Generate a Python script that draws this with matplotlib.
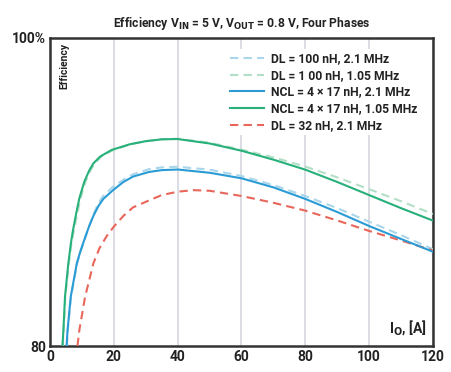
import matplotlib
matplotlib.use("Agg")
import matplotlib.pyplot as plt

plt.rcParams['font.family'] = ['Roboto', 'Liberation Sans', 'DejaVu Sans']

# ---- data ----
ncl105_x = [3.9, 4.2, 4.7, 5.75, 6.5, 7.1, 8.15, 9.2, 10.8, 12.3, 13.6, 15.7, 19.3, 25, 30, 35, 40, 50, 60, 70, 80, 90, 100, 110, 120]
ncl105_y = [80, 81.04, 83.2, 85.37, 86.6, 87.4, 88.55, 89.6, 90.7, 91.4, 91.86, 92.3, 92.73, 93.1, 93.3, 93.42, 93.44, 93.15, 92.68, 92.1, 91.45, 90.65, 89.8, 88.95, 88.14]

dl105_x = [4.0, 4.3, 4.8, 5.9, 6.7, 7.4, 8.5, 9.6, 11.2, 12.7, 14.0, 16.1, 19.6, 25, 30, 35, 40, 50, 60, 70, 80, 90, 100, 110, 120]
dl105_y = [80, 81.04, 83.2, 85.37, 86.6, 87.4, 88.55, 89.6, 90.7, 91.4, 91.86, 92.3, 92.7, 93.08, 93.3, 93.43, 93.46, 93.2, 92.75, 92.25, 91.65, 90.95, 90.18, 89.4, 88.57]

ncl21_x = [5.2, 5.5, 6.5, 8.4, 9.6, 11.0, 12.3, 13.6, 15.2, 16.7, 19.8, 23, 26, 31, 35, 40, 50, 60, 70, 80, 90, 100, 110, 120]
ncl21_y = [80, 81.04, 83.2, 85.37, 86.2, 87.05, 87.8, 88.45, 89.1, 89.55, 90.13, 90.65, 91.0, 91.3, 91.42, 91.46, 91.25, 90.89, 90.3, 89.55, 88.7, 87.79, 86.95, 86.12]

dl21_x = [5.3, 5.6, 6.6, 8.5, 9.7, 11.1, 12.4, 13.6, 15.1, 16.5, 19.5, 23, 26, 31, 35, 40, 50, 60, 70, 80, 90, 100, 110, 120]
dl21_y = [80, 81.04, 83.2, 85.37, 86.2, 87.05, 87.85, 88.55, 89.25, 89.7, 90.3, 90.8, 91.15, 91.48, 91.6, 91.64, 91.45, 91.04, 90.45, 89.74, 88.95, 88.07, 87.2, 86.28]

dl32_x = [8.6, 9.2, 11.0, 13.6, 15.5, 17.8, 20, 23, 26, 31, 35, 40, 45, 50, 60, 70, 80, 90, 100, 110, 120]
dl32_y = [80, 81.04, 83.2, 85.37, 86.35, 87.15, 87.75, 88.45, 89.0, 89.45, 89.8, 90.02, 90.12, 90.08, 89.74, 89.3, 88.79, 88.15, 87.47, 86.85, 86.2]

labels = ["DL = 100 nH, 2.1 MHz", "DL = 1 00 nH, 1.05 MHz", "NCL = 4 × 17 nH, 2.1 MHz",
          "NCL = 4 × 17 nH, 1.05 MHz", "DL = 32 nH, 2.1 MHz"]
xticks = [0, 20, 40, 60, 80, 100, 120]
yticks = [80, 100]
ytick_labels = ["80", "100%"]

fig = plt.figure(figsize=(4.52, 3.72), dpi=100)
ax = fig.add_axes([50/452, 26/372, 383/452, 308/372])

lw = 1.5
ax.plot(dl21_x, dl21_y, ls=(0, (4, 2.5)), color="#a9d6ea", lw=lw, label=labels[0], zorder=3)
ax.plot(dl105_x, dl105_y, ls=(0, (4, 2.5)), color="#b3dfc6", lw=lw, label=labels[1], zorder=3)
ax.plot(ncl21_x, ncl21_y, color="#2a9bd4", lw=lw, label=labels[2], zorder=4)
ax.plot(ncl105_x, ncl105_y, color="#27b07a", lw=lw, label=labels[3], zorder=4)
ax.plot(dl32_x, dl32_y, ls=(0, (4, 2.5)), color="#e8665a", lw=lw, label=labels[4], zorder=3)

ax.set_xlim(0, 120)
ax.set_ylim(80, 100)
ax.set_xticks(xticks)
ax.set_xticklabels([str(v) for v in xticks], fontsize=10, fontweight="bold", color="#222222")
ax.set_yticks(yticks)
ax.set_yticklabels(ytick_labels, fontsize=10, fontweight="bold", color="#222222")
ax.tick_params(length=0, pad=3)
ax.xaxis.grid(True, color="#d5d7df", lw=1.2, zorder=0)
ax.yaxis.grid(False)
for s in ax.spines.values():
    s.set_linewidth(1.8)
    s.set_color("#333333")

ax.text(0.025, 0.985, "Efficiency", transform=ax.transAxes, rotation=90, ha="left", va="top",
        fontsize=7.5, fontweight="bold", color="#222222")
ax.text(0.985, 0.03, r"I$_\mathbf{O}$, [A]", transform=ax.transAxes, ha="right", va="bottom",
        fontsize=10, fontweight="bold", color="#222222")

fig.text(242/452, 1 - 24/372, r"Efficiency V$_\mathbf{IN}$ = 5 V, V$_\mathbf{OUT}$ = 0.8 V, Four Phases",
         ha="center", va="center", fontsize=8.7, fontweight="bold", color="#222222")

leg = ax.legend(loc="upper right", bbox_to_anchor=(0.985, 0.985), frameon=True, fontsize=8.7,
                handlelength=2.8, handletextpad=0.6, labelspacing=0.3, borderpad=0.3)
leg.get_frame().set_facecolor("white")
leg.get_frame().set_edgecolor("none")
leg.get_frame().set_alpha(1)
for t in leg.get_texts():
    t.set_fontweight("bold")
    t.set_color("#222222")

fig.savefig("out.png", dpi=100, facecolor="white")
